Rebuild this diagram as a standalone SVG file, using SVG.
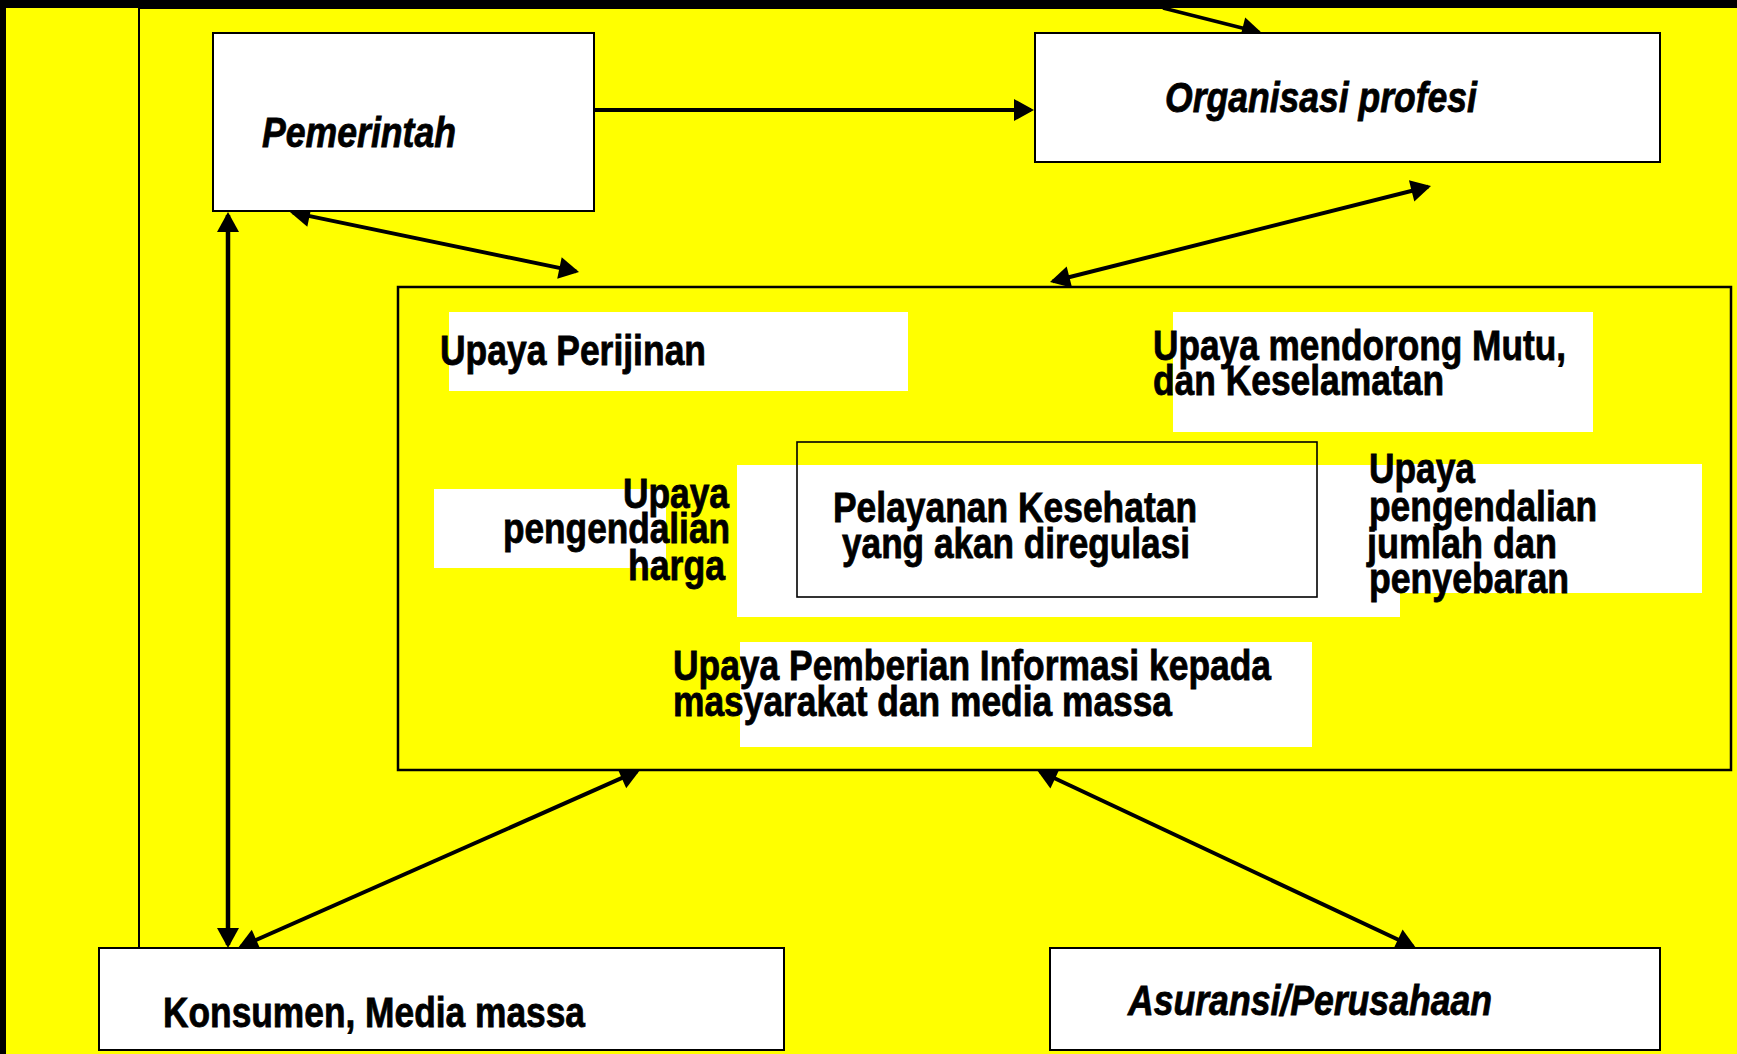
<svg xmlns="http://www.w3.org/2000/svg" width="1737" height="1054" viewBox="0 0 1737 1054">
  <style>
    .node { fill: #ffffff; stroke: #000000; stroke-width: 2; }
    .frame { fill: #ffff00; stroke: #000000; stroke-width: 2.5; }
    .core { fill: none; stroke: #000000; stroke-width: 1.6; }
    .pad { fill: #ffffff; stroke: none; }
    .lbl { font-family: "Liberation Sans", Arial, sans-serif; font-weight: bold; font-size: 42px; fill: #000000; stroke: #000000; stroke-width: 0.8; }
    .it { font-style: italic; }
    .link { fill: none; stroke: #000000; stroke-width: 4; }
    .thin { fill: none; stroke: #000000; stroke-width: 2; }
  </style>
  <defs>
    <marker id="head" markerUnits="userSpaceOnUse" markerWidth="22" markerHeight="24" refX="17" refY="11" orient="auto-start-reverse" overflow="visible">
      <path d="M0,0 L20,11 L0,22 Z" fill="#000000"/>
    </marker>
  </defs>

  <!-- page: black edge with yellow field -->
  <rect x="0" y="0" width="1737" height="1054" fill="#000000"/>
  <rect x="6" y="8" width="1731" height="1046" fill="#ffff00"/>

  <!-- connectors (drawn first so boxes sit over the arrow tips) -->
  <g id="connectors">
    <polyline class="thin" points="139,948 139,8 1163,8"/>
    <line class="link" x1="1163" y1="8" x2="1259" y2="32.3" marker-end="url(#head)" style="stroke-width:3.5"/>
    <line class="link" x1="594" y1="110" x2="1031" y2="110" marker-end="url(#head)"/>
    <line class="link" x1="228" y1="215" x2="228" y2="945" marker-start="url(#head)" marker-end="url(#head)" style="stroke-width:4.5"/>
    <line class="link" x1="292.9" y1="212.6" x2="576.1" y2="271.4" marker-start="url(#head)" marker-end="url(#head)"/>
    <line class="link" x1="1428.1" y1="186.7" x2="1052.9" y2="281.3" marker-start="url(#head)" marker-end="url(#head)"/>
    <line class="link" x1="637.3" y1="771.2" x2="240.7" y2="946.8" marker-start="url(#head)" marker-end="url(#head)"/>
    <line class="link" x1="1039.7" y1="771.3" x2="1413.3" y2="946.7" marker-start="url(#head)" marker-end="url(#head)"/>
  </g>

  <g id="pemerintah">
    <rect class="node" x="213" y="33" width="381" height="178"/>
    <text class="lbl it" x="262" y="147" textLength="194" lengthAdjust="spacingAndGlyphs">Pemerintah</text>
  </g>

  <g id="organisasi-profesi">
    <rect class="node" x="1035" y="33" width="625" height="129"/>
    <text class="lbl it" x="1165" y="112" textLength="312" lengthAdjust="spacingAndGlyphs">Organisasi profesi</text>
  </g>

  <g id="regulasi">
    <rect class="frame" x="398" y="287" width="1333" height="483"/>
    <rect class="pad" x="449" y="312" width="459" height="79"/>
    <rect class="pad" x="1173" y="312" width="420" height="120"/>
    <rect class="pad" x="434" y="489" width="232" height="79"/>
    <rect class="pad" x="1400" y="464" width="302" height="129"/>
    <rect class="pad" x="737" y="465" width="663" height="152"/>
    <rect class="pad" x="740" y="642" width="572" height="105"/>
    <rect class="core" x="797" y="442" width="520" height="155"/>

    <text class="lbl" x="440" y="365" textLength="266" lengthAdjust="spacingAndGlyphs">Upaya Perijinan</text>

    <text class="lbl" x="1153" y="360" textLength="413" lengthAdjust="spacingAndGlyphs">Upaya mendorong Mutu,</text>
    <text class="lbl" x="1153" y="395" textLength="291" lengthAdjust="spacingAndGlyphs">dan Keselamatan</text>

    <text class="lbl" x="623" y="508" textLength="106" lengthAdjust="spacingAndGlyphs">Upaya</text>
    <text class="lbl" x="503" y="543" textLength="227" lengthAdjust="spacingAndGlyphs">pengendalian</text>
    <text class="lbl" x="628" y="580" textLength="97" lengthAdjust="spacingAndGlyphs">harga</text>

    <text class="lbl" x="833" y="522" textLength="364" lengthAdjust="spacingAndGlyphs">Pelayanan Kesehatan</text>
    <text class="lbl" x="842" y="558" textLength="348" lengthAdjust="spacingAndGlyphs">yang akan diregulasi</text>

    <text class="lbl" x="1369" y="483" textLength="106" lengthAdjust="spacingAndGlyphs">Upaya</text>
    <text class="lbl" x="1369" y="521" textLength="228" lengthAdjust="spacingAndGlyphs">pengendalian</text>
    <text class="lbl" x="1367" y="558" textLength="190" lengthAdjust="spacingAndGlyphs">jumlah dan</text>
    <text class="lbl" x="1369" y="593" textLength="200" lengthAdjust="spacingAndGlyphs">penyebaran</text>

    <text class="lbl" x="673" y="680" textLength="598" lengthAdjust="spacingAndGlyphs">Upaya Pemberian Informasi kepada</text>
    <text class="lbl" x="673" y="716" textLength="499" lengthAdjust="spacingAndGlyphs">masyarakat dan media massa</text>
  </g>

  <g id="konsumen">
    <rect class="node" x="99" y="948" width="685" height="102"/>
    <text class="lbl" x="163" y="1027" textLength="422" lengthAdjust="spacingAndGlyphs">Konsumen, Media massa</text>
  </g>

  <g id="asuransi">
    <rect class="node" x="1050" y="948" width="610" height="102"/>
    <text class="lbl it" x="1128" y="1015" textLength="364" lengthAdjust="spacingAndGlyphs">Asuransi/Perusahaan</text>
  </g>
</svg>
